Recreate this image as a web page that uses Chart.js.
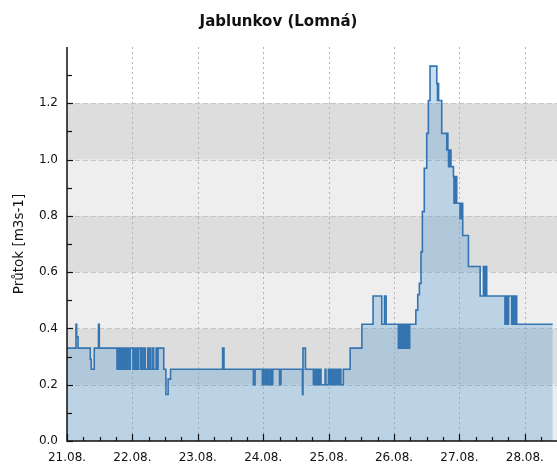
<!DOCTYPE html>
<html><head><meta charset="utf-8">
<script src="https://cdn.jsdelivr.net/npm/chart.js@4.4.0/dist/chart.umd.min.js"></script>
<style>html,body{margin:0;padding:0;background:#fff;}</style>
</head><body>
<canvas id="c" width="557" height="466"></canvas>
<script>
const chartTitle = 'Jablunkov (Lomná)';
const yAxisTitle = 'Průtok [m3s-1]';
const dayLabels = ['21.08.','22.08.','23.08.','24.08.','25.08.','26.08.','27.08.','28.08.'];
const dayHours = [0,24,48,72,96,120,144,168];
const yTickValues = [0,0.2,0.4,0.6,0.8,1.0,1.2];
const yMinorValues = [0.1,0.3,0.5,0.7,0.9,1.1,1.3];
const xMinorHours = [6,12,18,30,36,42,54,60,66,78,84,90,102,108,114,126,132,138,150,156,162,174];
const bandsDark = [[0.2,0.4],[0.6,0.8],[1.0,1.2]];
const bandsLight = [[0,0.2],[0.4,0.6],[0.8,1.0]];

// hours since 21.08. 00:00 where the flow changes, and the flow from then on
const hours = [0,3.3,3.55,4.05,8.55,8.9,10.0,11.55,11.85,
 18.35,18.65,18.95,19.25,19.55,19.85,20.15,20.45,20.75,21.05,21.35,21.65,21.95,
 22.3,22.9,23.2,24.2,24.5,25.1,25.7,26.0,26.3,27.1,27.4,27.8,28.4,28.7,29.6,29.9,30.5,30.8,31.5,31.8,32.7,33.0,33.4,
 35.5,36.3,37.1,38.0,57.1,57.6,68.4,69.0,
 71.7,72.0,72.3,72.9,73.2,73.8,74.1,74.7,75.0,75.5,78.0,78.5,86.4,86.6,87.5,
 90.4,90.8,91.1,91.5,91.8,92.2,92.5,92.9,93.2,94.7,95.0,95.9,96.2,96.8,97.1,97.7,98.0,98.6,98.9,99.5,99.8,100.3,100.5,101.4,
 103.9,108.2,112.3,115.5,116.5,117.1,
 121.6,121.75,122.2,122.35,122.7,122.85,123.2,123.4,123.8,123.95,124.4,124.55,125.0,125.2,125.6,125.75,
 128.0,128.7,129.3,129.9,130.4,131.1,132.0,132.6,133.2,135.7,135.95,136.15,136.35,137.5,
 139.35,139.55,139.75,140.0,140.2,140.45,140.7,140.9,141.8,142.0,142.2,142.45,142.65,143.0,
 144.2,144.45,144.7,144.95,145.2,147.3,151.6,152.8,153.05,153.3,153.6,153.8,154.0,
 160.7,160.95,161.2,161.45,161.7,162.0,163.2,163.45,163.7,163.95,164.2,164.5,165.0,178.25];
const flow = [0.33,0.415,0.37,0.33,0.29,0.255,0.33,0.415,0.33,
 0.255,0.33,0.255,0.33,0.255,0.33,0.255,0.33,0.255,0.33,0.255,0.33,0.255,
 0.33,0.255,0.33,0.255,0.33,0.255,0.33,0.255,0.33,0.255,0.33,0.255,0.33,0.255,0.33,0.255,0.33,0.255,0.33,0.255,0.33,0.255,0.33,
 0.255,0.165,0.22,0.255,0.33,0.255,0.2,0.255,
 0.2,0.255,0.2,0.255,0.2,0.255,0.2,0.255,0.2,0.255,0.2,0.255,0.165,0.33,0.255,
 0.2,0.255,0.2,0.255,0.2,0.255,0.2,0.255,0.2,0.255,0.2,0.255,0.2,0.255,0.2,0.255,0.2,0.255,0.2,0.255,0.2,0.255,0.2,0.255,
 0.33,0.415,0.515,0.415,0.515,0.415,
 0.33,0.415,0.33,0.415,0.33,0.415,0.33,0.415,0.33,0.415,0.33,0.415,0.33,0.415,0.33,0.415,
 0.465,0.52,0.56,0.672,0.815,0.969,1.093,1.21,1.332,1.27,1.21,1.27,1.21,1.093,
 1.034,1.093,1.034,0.975,1.034,0.975,1.034,0.975,0.94,0.845,0.94,0.845,0.94,0.845,
 0.79,0.845,0.79,0.845,0.73,0.62,0.515,0.62,0.515,0.62,0.515,0.62,0.515,
 0.415,0.515,0.415,0.515,0.415,0.515,0.415,0.515,0.415,0.515,0.415,0.515,0.415,0.415];

const FONT = '"DejaVu Sans", Verdana, sans-serif';

const decor = {
  id: 'decor',
  beforeDraw(chart) {
    const {ctx, chartArea: a, scales: {y}} = chart;
    ctx.save();
    const fillBands = (list, col) => list.forEach(([lo, hi]) => {
      const t = y.getPixelForValue(hi), b = y.getPixelForValue(lo);
      ctx.fillStyle = col;
      ctx.fillRect(a.left, t, a.right - a.left, b - t);
    });
    fillBands(bandsLight, '#eeeeee');
    fillBands(bandsDark, '#dddddd');
    ctx.restore();
  },
  beforeDatasetsDraw(chart) {
    const {ctx, chartArea: a, scales: {x, y}} = chart;
    ctx.save();
    ctx.lineWidth = 1;
    ctx.strokeStyle = '#c4c4c4';
    ctx.setLineDash([5, 3]);
    yTickValues.filter(v => v > 0).forEach(v => {
      const py = Math.round(y.getPixelForValue(v)) + 0.5;
      ctx.beginPath(); ctx.moveTo(a.left, py); ctx.lineTo(a.right, py); ctx.stroke();
    });
    ctx.strokeStyle = '#b4b4b4';
    ctx.setLineDash([2, 3]);
    dayHours.filter(v => v > 0).forEach(v => {
      const px = Math.round(x.getPixelForValue(v)) + 0.5;
      ctx.beginPath(); ctx.moveTo(px, a.top); ctx.lineTo(px, a.bottom); ctx.stroke();
    });
    ctx.restore();
  },
  afterDraw(chart) {
    const {ctx, chartArea: a, scales: {x, y}} = chart;
    ctx.save();
    ctx.strokeStyle = '#111';
    ctx.lineWidth = 1.5;
    ctx.beginPath();
    ctx.moveTo(a.left, a.top); ctx.lineTo(a.left, a.bottom); ctx.lineTo(a.right, a.bottom);
    ctx.stroke();
    ctx.lineWidth = 1.2;
    const yt = (v, len) => { const py = Math.round(y.getPixelForValue(v)) + 0.5; ctx.beginPath(); ctx.moveTo(a.left, py); ctx.lineTo(a.left + len, py); ctx.stroke(); };
    yTickValues.forEach(v => yt(v, 6));
    yMinorValues.forEach(v => yt(v, 5));
    const xt = (v, len) => { const px = Math.round(x.getPixelForValue(v)) + 0.5; ctx.beginPath(); ctx.moveTo(px, a.bottom); ctx.lineTo(px, a.bottom - len); ctx.stroke(); };
    dayHours.forEach(v => xt(v, 7));
    xMinorHours.forEach(v => xt(v, 4));
    ctx.restore();
  }
};

new Chart(document.getElementById('c'), {
  type: 'line',
  data: {
    datasets: [{
      data: hours.map((h, i) => ({x: h, y: flow[i]})),
      stepped: true,
      borderColor: '#3474b0',
      borderWidth: 1.6,
      backgroundColor: 'rgba(95,161,215,0.35)',
      fill: 'origin',
      pointRadius: 0,
      tension: 0
    }]
  },
  options: {
    responsive: false,
    animation: false,
    devicePixelRatio: 1,
    layout: {padding: 0},
    plugins: {
      legend: {display: false},
      tooltip: {enabled: false},
      title: {display: true, text: chartTitle, color: '#111',
        font: {family: FONT, size: 15, weight: 'bold'}, padding: {top: 13, bottom: 16}}
    },
    scales: {
      x: {
        type: 'linear', min: 0, max: 179.8,
        afterBuildTicks: s => { s.ticks = dayHours.map(v => ({value: v})); },
        afterFit: s => { s.height = 25; },
        grid: {display: false, drawTicks: false},
        border: {display: false},
        ticks: {padding: 10, autoSkip: false, maxRotation: 0, color: '#111',
          font: {family: FONT, size: 12},
          callback: v => dayLabels[dayHours.indexOf(v)]}
      },
      y: {
        min: 0, max: 1.4,
        afterBuildTicks: s => { s.ticks = yTickValues.map(v => ({value: v})); },
        afterFit: s => { s.width = 67; },
        grid: {display: false, drawTicks: false},
        border: {display: false},
        ticks: {padding: 9, color: '#111', font: {family: FONT, size: 12},
          callback: v => Number(v).toFixed(1)},
        title: {display: true, text: yAxisTitle, color: '#111',
          font: {family: FONT, size: 13.5}, padding: {top: 11, bottom: 0}}
      }
    }
  },
  plugins: [decor]
});
</script>
</body></html>
